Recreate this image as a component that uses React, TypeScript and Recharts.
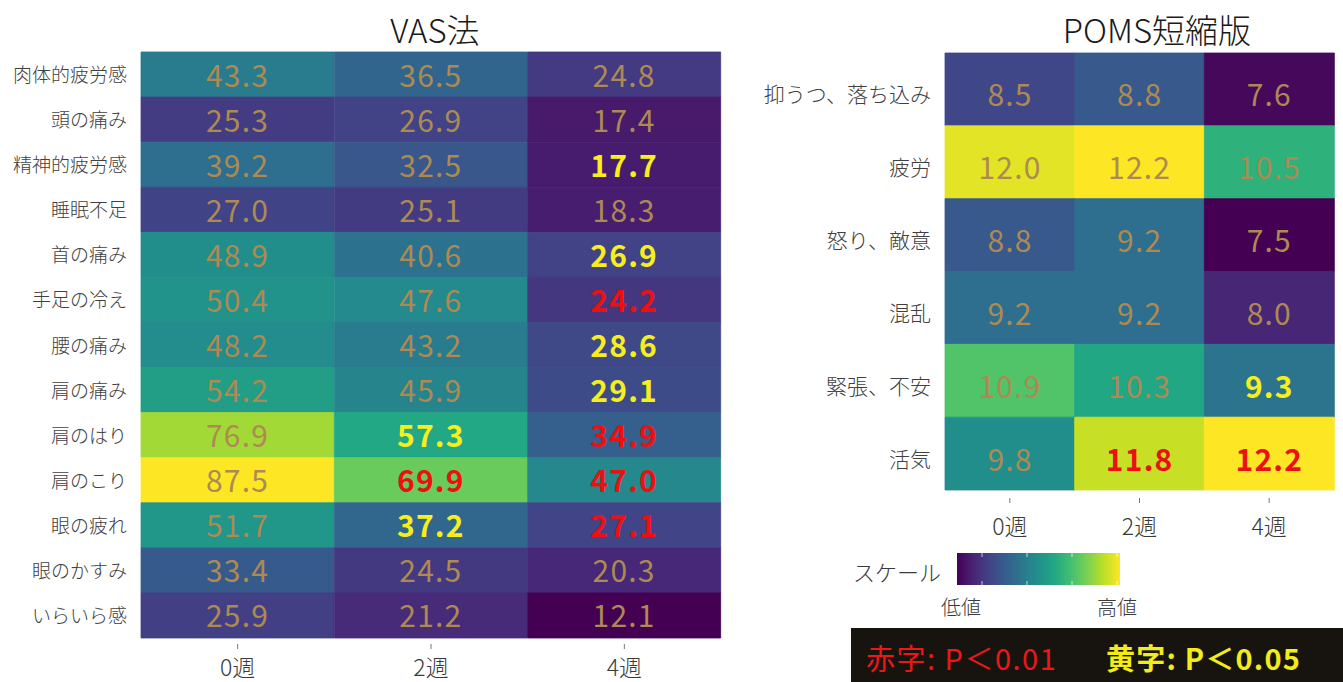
import React from 'react';
import { BarChart, Bar, XAxis, YAxis, Cell, LabelList } from 'recharts';

const weeks = ['0週', '2週', '4週'];

const vasRows = ['肉体的疲労感', '頭の痛み', '精神的疲労感', '睡眠不足', '首の痛み', '手足の冷え', '腰の痛み', '肩の痛み', '肩のはり', '肩のこり', '眼の疲れ', '眼のかすみ', 'いらいら感'];
const vasWeek0 = [43.3, 25.3, 39.2, 27.0, 48.9, 50.4, 48.2, 54.2, 76.9, 87.5, 51.7, 33.4, 25.9];
const vasWeek2 = [36.5, 26.9, 32.5, 25.1, 40.6, 47.6, 43.2, 45.9, 57.3, 69.9, 37.2, 24.5, 21.2];
const vasWeek4 = [24.8, 17.4, 17.7, 18.3, 26.9, 24.2, 28.6, 29.1, 34.9, 47.0, 27.1, 20.3, 12.1];
// significance: '' none, 'Y' p<0.05, 'R' p<0.01
const vasSig0 = ['', '', '', '', '', '', '', '', '', '', '', '', ''];
const vasSig2 = ['', '', '', '', '', '', '', '', 'Y', 'R', 'Y', '', ''];
const vasSig4 = ['', '', 'Y', '', 'Y', 'R', 'Y', 'Y', 'R', 'R', 'R', '', ''];

const pomsRows = ['抑うつ、落ち込み', '疲労', '怒り、敵意', '混乱', '緊張、不安', '活気'];
const pomsWeek0 = [8.5, 12.0, 8.8, 9.2, 10.9, 9.8];
const pomsWeek2 = [8.8, 12.2, 9.2, 9.2, 10.3, 11.8];
const pomsWeek4 = [7.6, 10.5, 7.5, 8.0, 9.3, 12.2];
const pomsSig0 = ['', '', '', '', '', ''];
const pomsSig2 = ['', '', '', '', '', 'R'];
const pomsSig4 = ['', '', '', '', 'Y', 'R'];

const VIRIDIS = ['#440154', '#482475', '#414487', '#355f8d', '#2a788e', '#21918c', '#22a884', '#44bf70', '#7ad151', '#bddf26', '#fde725'];

function hexToRgb(h: string) {
  return [parseInt(h.slice(1, 3), 16), parseInt(h.slice(3, 5), 16), parseInt(h.slice(5, 7), 16)];
}
function viridis(t: number) {
  const c = Math.max(0, Math.min(1, t)) * (VIRIDIS.length - 1);
  const i = Math.min(VIRIDIS.length - 2, Math.floor(c));
  const f = c - i;
  const a = hexToRgb(VIRIDIS[i]);
  const b = hexToRgb(VIRIDIS[i + 1]);
  const m = a.map((v, k) => Math.round(v + (b[k] - v) * f));
  return `rgb(${m[0]},${m[1]},${m[2]})`;
}

const FONT = "'Noto Sans CJK JP', 'Noto Sans', sans-serif";
const NORMAL_TXT = '#ad8a52';
const YELLOW_TXT = '#f6ef1c';
const RED_TXT = '#ec1010';

type HeatProps = {
  rows: string[];
  cols: number[][];
  sigs: string[][];
  left: number;
  width: number;
  height: number;
  top: number;
  right: number;
  yWidth: number;
  xHeight: number;
  rowFont: number;
  valFont: number;
  tickGap: number;
  labelOffset: number;
  textShift: number;
};

function Heat(p: HeatProps) {
  const n = p.rows.length;
  const all = p.cols.flat();
  const mn = Math.min(...all);
  const mx = Math.max(...all);
  const data = weeks.map((w) => {
    const o: Record<string, any> = { week: w };
    p.rows.forEach((_, ri) => (o['r' + ri] = 1));
    return o;
  });
  const ticks = p.rows.map((_, i) => i + 0.5);
  const label = (ri: number) => (props: any) => {
    const { x, y, width, height, index } = props;
    const v = p.cols[index][ri];
    const s = p.sigs[index][ri];
    const fill = s === 'R' ? RED_TXT : s === 'Y' ? YELLOW_TXT : NORMAL_TXT;
    return (
      <text
        x={x + width / 2}
        y={y + height / 2 + p.textShift}
        textAnchor="middle"
        dominantBaseline="central"
        fill={fill}
        fontFamily={FONT}
        fontSize={p.valFont}
        fontWeight={s ? 700 : 400}
        letterSpacing={1.2}
      >
        {v.toFixed(1)}
      </text>
    );
  };
  return (
    <div style={{ position: 'absolute', left: p.left, top: 0 }}>
      <BarChart
        width={p.width}
        height={p.height}
        data={data}
        margin={{ top: p.top, right: p.right, bottom: 0, left: 0 }}
        barCategoryGap={0}
        barGap={0}
      >
        <XAxis
          dataKey="week"
          type="category"
          height={p.xHeight}
          axisLine={false}
          tickLine={false}
          tickSize={0}
          tickMargin={0}
          interval={0}
          tick={(t: any) => (
            <g>
              <line x1={t.x} x2={t.x} y1={t.y + p.tickGap} y2={t.y + p.tickGap + 5} stroke="#777" strokeWidth={1} />
              <text x={t.x} y={t.y + p.labelOffset} textAnchor="middle" dominantBaseline="central" fill="#3a3a3a" fontFamily={FONT} fontSize={23} fontWeight={300}>
                {t.payload.value}
              </text>
            </g>
          )}
        />
        <YAxis
          type="number"
          domain={[0, n]}
          ticks={ticks}
          reversed
          width={p.yWidth}
          axisLine={false}
          tickLine={false}
          tickSize={0}
          tickMargin={0}
          interval={0}
          tick={(t: any) => (
            <text x={t.x - 14} y={t.y + p.textShift} textAnchor="end" dominantBaseline="central" fill="#404040" fontFamily={FONT} fontSize={p.rowFont} fontWeight={300}>
              {p.rows[Math.floor(t.payload.value)]}
            </text>
          )}
        />
        {p.rows.map((r, ri) => (
          <Bar key={r} dataKey={'r' + ri} stackId="s" isAnimationActive={false}>
            {weeks.map((w, ci) => {
              const c = viridis((p.cols[ci][ri] - mn) / (mx - mn));
              return <Cell key={w} fill={c} stroke={c} strokeWidth={0.8} />;
            })}
            <LabelList content={label(ri)} />
          </Bar>
        ))}
      </BarChart>
    </div>
  );
}

export default function App() {
  const grad = VIRIDIS.map((c, i) => <stop key={i} offset={`${(i / (VIRIDIS.length - 1)) * 100}%`} stopColor={c} />);
  const barTicks = [982, 1027, 1072, 1117];
  return (
    <div style={{ position: 'absolute', left: 0, top: 0, width: 1343, height: 682, background: '#fff', overflow: 'hidden', fontFamily: FONT }}>
      <Heat
        rows={vasRows}
        cols={[vasWeek0, vasWeek2, vasWeek4]}
        sigs={[vasSig0, vasSig2, vasSig4]}
        left={0}
        width={740}
        height={682}
        top={52}
        right={19}
        yWidth={141}
        xHeight={44}
        rowFont={19}
        valFont={30}
        tickGap={6}
        labelOffset={28}
        textShift={-1}
      />
      <Heat
        rows={pomsRows}
        cols={[pomsWeek0, pomsWeek2, pomsWeek4]}
        sigs={[pomsSig0, pomsSig2, pomsSig4]}
        left={740}
        width={603}
        height={560}
        top={53}
        right={9}
        yWidth={205}
        xHeight={70}
        rowFont={21}
        valFont={30}
        tickGap={8}
        labelOffset={35}
        textShift={4}
      />
      <svg width={1343} height={682} style={{ position: 'absolute', left: 0, top: 0, pointerEvents: 'none' }}>
        <defs>
          <linearGradient id="vir" x1="0" x2="1" y1="0" y2="0">
            {grad}
          </linearGradient>
        </defs>
        <text x={435} y={29} textAnchor="middle" dominantBaseline="central" fontFamily={FONT} fontSize={33} fill="#1a1a1a" fontWeight={300}>VAS法</text>
        <text x={1157} y={29} textAnchor="middle" dominantBaseline="central" fontFamily={FONT} fontSize={33} fill="#1a1a1a" fontWeight={300}>POMS短縮版</text>
        <text x={853} y={571} textAnchor="start" dominantBaseline="central" fontFamily={FONT} fontSize={22} fill="#3a3a3a" fontWeight={300}>スケール</text>
        <rect x={957} y={553} width={163} height={32} fill="url(#vir)" />
        {barTicks.map((x) => (
          <g key={x}>
            <line x1={x} x2={x} y1={553} y2={557} stroke="#fff" strokeOpacity={0.7} />
            <line x1={x} x2={x} y1={581} y2={585} stroke="#fff" strokeOpacity={0.7} />
          </g>
        ))}
        <text x={961} y={606} textAnchor="middle" dominantBaseline="central" fontFamily={FONT} fontSize={20} fill="#3a3a3a" fontWeight={300}>低値</text>
        <text x={1117} y={606} textAnchor="middle" dominantBaseline="central" fontFamily={FONT} fontSize={20} fill="#3a3a3a" fontWeight={300}>高値</text>
        <rect x={851} y={628} width={492} height={54} fill="#17140f" />
        <text x={866} y={657} textAnchor="start" dominantBaseline="central" fontFamily={FONT} fontSize={29} letterSpacing={1.5} fill="#ec1818">赤字: P＜0.01</text>
        <text x={1106} y={657} textAnchor="start" dominantBaseline="central" fontFamily={FONT} fontSize={29} letterSpacing={1.2} fontWeight={700} fill="#f2ec1a">黄字: P＜0.05</text>
      </svg>
    </div>
  );
}
